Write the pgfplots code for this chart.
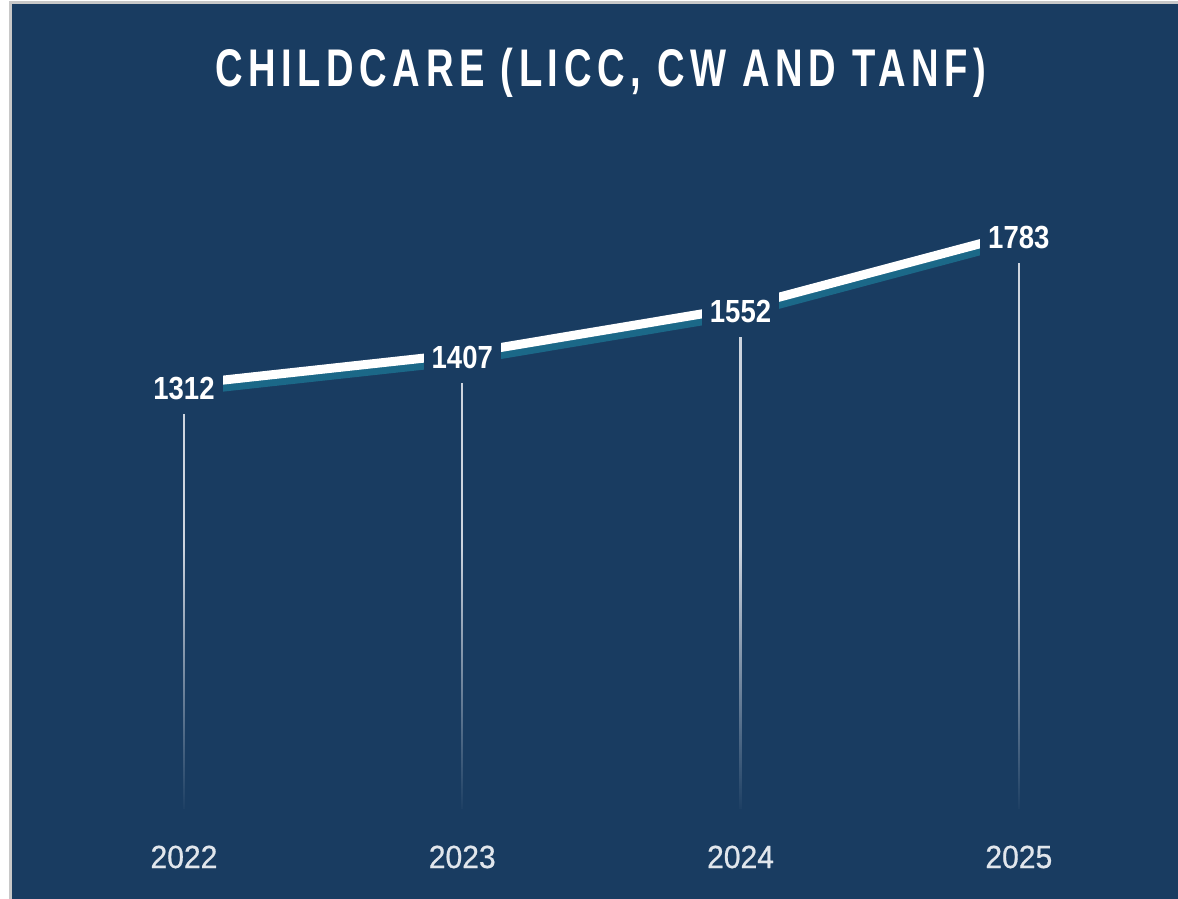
\documentclass[border=0pt]{standalone}
\usepackage{pgfplots}
\pgfplotsset{compat=1.18}
\usepackage{fontspec}
\usetikzlibrary{fadings}
\setmainfont{Liberation Sans}
\newfontfamily\titlefont[FakeStretch=0.72, LetterSpace=10.5]{Liberation Sans Bold}
\newfontfamily\labfont[FakeStretch=0.86]{Liberation Sans Bold}
\newfontfamily\yearfont[FakeStretch=0.94, FakeBold=0.6]{Liberation Sans}
\definecolor{navy}{RGB}{25,60,97}
\definecolor{teal2}{RGB}{27,104,136}
\definecolor{dropc}{RGB}{205,212,222}
\definecolor{yearc}{RGB}{225,230,236}
\definecolor{edgec}{RGB}{200,200,200}
\begin{document}
\begin{tikzpicture}[x=0.5pt,y=0.5pt]
\fill[white] (0,0) rectangle (1178,899);
\fill[edgec] (9,0) rectangle (1178,898);
\begin{axis}[
  at={(6pt,0pt)}, anchor=south west, scale only axis,
  width=583pt, height=447.5pt,
  xmin=-0.618, xmax=3.572, ymin=-280.7, ymax=2511,
  axis background/.style={fill=navy},
  axis line style={draw=none},
  tick style={draw=none},
  ytick=\empty,
  xtick={0,1,2,3},
  xticklabels={2022,2023,2024,2025},
  x tick label style={anchor=center, yshift=21pt, font=\yearfont\fontsize{16}{16}\selectfont, text=yearc},
  clip=false,
]
% drop lines
\addplot[ycomb, dropc, line width=1.2pt, no marks] coordinates {(0,1312) (1,1407) (2,1552) (3,1783)};
\fill[navy, path fading=north] (axis cs:-0.5,-20) rectangle (axis cs:3.5,820);
% shadow line
\addplot[teal2, line width=4.5pt, yshift=-1.5pt, no marks] coordinates {(0,1312) (1,1407) (2,1552) (3,1783)};
% main line
\addplot[white, line width=4.5pt, yshift=2pt, no marks, line join=round] coordinates {(0,1312) (1,1407) (2,1552) (3,1783)};
% labels
\addplot[draw=none, no marks, point meta=explicit symbolic, nodes near coords,
  nodes near coords align=center,
  nodes near coords style={fill=navy, text=white, font=\labfont\fontsize{16}{16}\selectfont, inner xsep=4pt, inner ysep=7pt, anchor=center}]
  coordinates {(0,1312)[1312] (1,1407)[1407] (2,1552)[1552] (3,1783)[1783]};
\node[text=white, font=\titlefont\fontsize{26.5}{26.5}\selectfont] at (axis cs:1.498,2296) {CHILDCARE (LICC, CW AND TANF)};
\end{axis}
\end{tikzpicture}
\end{document}
